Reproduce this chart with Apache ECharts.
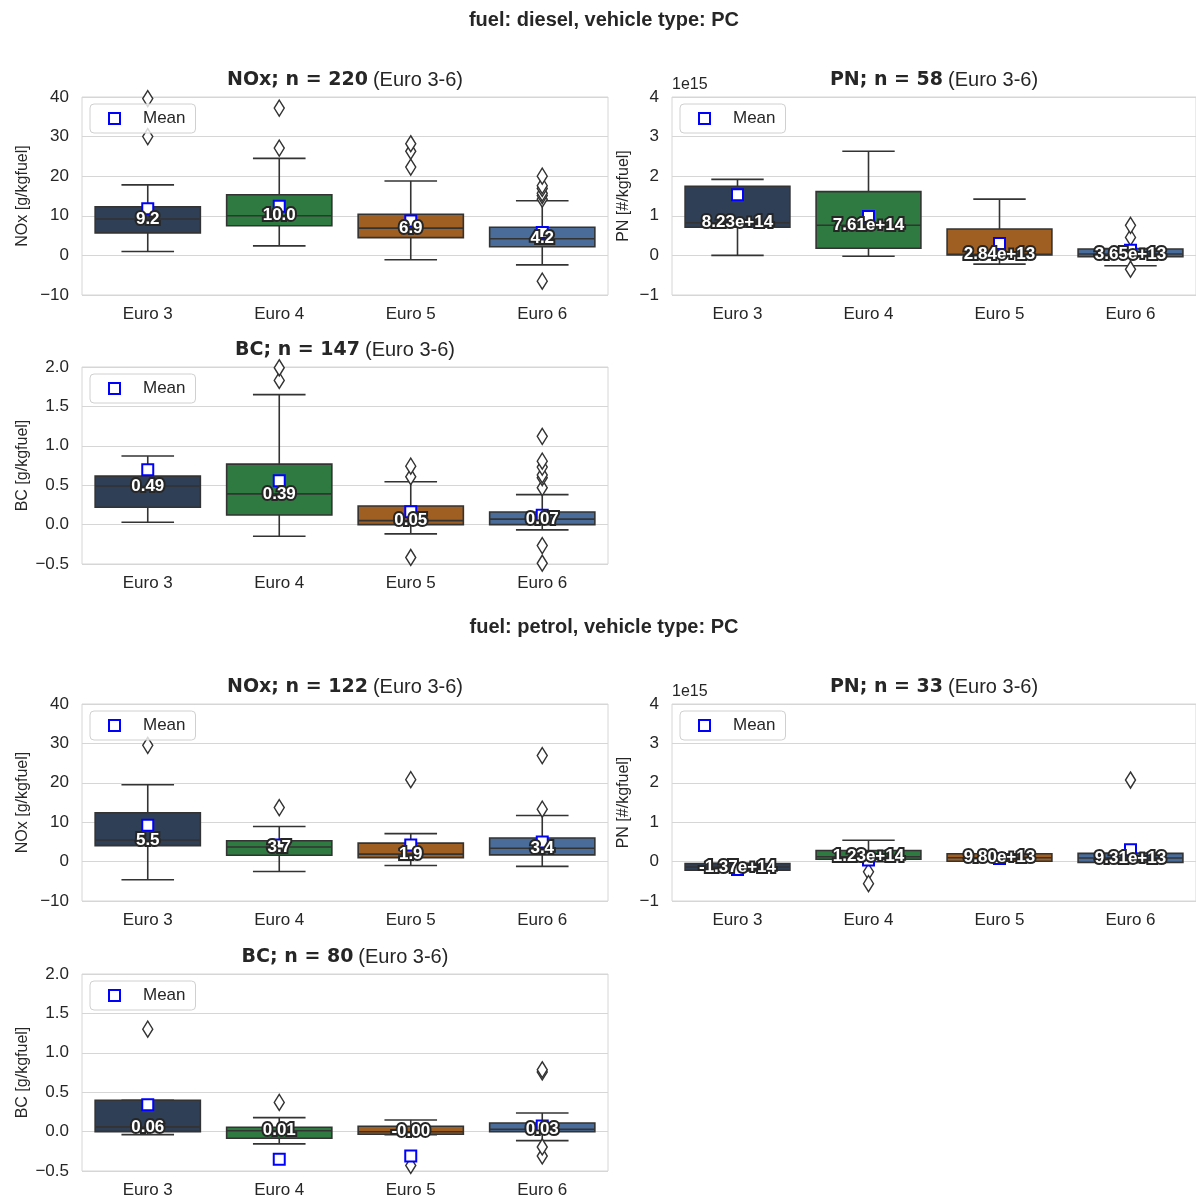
<!DOCTYPE html>
<html>
<head>
<meta charset="utf-8">
<script src="https://cdn.jsdelivr.net/npm/echarts@6/dist/echarts.min.js"></script>
<style>
  html, body { margin: 0; padding: 0; background: #fff; }
  #chart { width: 1196px; height: 1199px; }
</style>
</head>
<body>
<div id="chart"></div>
<script>
var categories = ['Euro 3', 'Euro 4', 'Euro 5', 'Euro 6'];
var boxColors = ['#2f3f55', '#2e7a40', '#a05f22', '#4a6c9a'];

// box stats per category: [low whisker, Q1, median, Q3, high whisker]
var dieselNOxBox = [[1.0, 5.7, 9.2, 12.3, 17.8], [2.4, 7.5, 10.0, 15.3, 24.5], [-1.1, 4.5, 6.9, 10.4, 18.8], [-2.4, 2.2, 4.2, 7.1, 13.8]];
var dieselNOxMean = [11.8, 12.4, 8.7, 5.8];
var dieselNOxOut = [[30.0, 39.6], [27.1, 37.2], [22.3, 26.3, 28.2], [-6.5, 14.2, 15.1, 15.7, 16.9, 17.6, 20.0]];

var dieselPNBox = [[0.0, 0.71e15, 8.23e14, 1.745e15, 1.92e15], [-0.02e15, 0.18e15, 7.61e14, 1.61e15, 2.63e15], [-0.22e15, 0.01e15, 2.84e13, 0.665e15, 1.42e15], [-0.26e15, -0.03e15, 3.65e13, 0.16e15, 0.17e15]];
var dieselPNMean = [1.53e15, 0.98e15, 0.3e15, 0.13e15];
var dieselPNOut = [[], [], [], [-0.35e15, 0.455e15, 0.76e15]];

var dieselBCBox = [[0.03, 0.22, 0.49, 0.615, 0.87], [-0.148, 0.122, 0.39, 0.767, 1.65], [-0.118, 0.0, 0.05, 0.236, 0.544], [-0.067, 0.0, 0.07, 0.16, 0.38]];
var dieselBCMean = [0.695, 0.556, 0.164, 0.12];
var dieselBCOut = [[], [1.83, 1.99], [-0.417, 0.607, 0.742], [-0.49, -0.266, 0.468, 0.595, 0.63, 0.73, 0.805, 1.12]];

var petrolNOxBox = [[-4.6, 4.05, 5.5, 12.4, 19.5], [-2.5, 1.6, 3.7, 5.3, 8.9], [-1.0, 1.0, 1.9, 4.7, 7.1], [-1.2, 1.7, 3.4, 6.0, 11.7]];
var petrolNOxMean = [9.2, 4.2, 4.2, 5.0];
var petrolNOxOut = [[29.5], [13.7], [20.8], [13.3, 26.9]];

var petrolPNBox = [[-0.24e15, -0.22e15, -1.37e14, -0.05e15, -0.04e15], [0.0, 0.06e15, 1.23e14, 0.28e15, 0.54e15], [0.01e15, 0.01e15, 9.80e13, 0.2e15, 0.2e15], [-0.02e15, -0.02e15, 9.31e13, 0.21e15, 0.21e15]];
var petrolPNMean = [-0.2e15, 0.04e15, 0.08e15, 0.3e15];
var petrolPNOut = [[], [-0.26e15, -0.56e15], [], [2.07e15]];

var petrolBCBox = [[-0.038, 0.0, 0.06, 0.397, 0.397], [-0.156, -0.084, 0.01, 0.055, 0.177], [-0.04, -0.034, -0.001, 0.068, 0.148], [-0.114, 0.0, 0.03, 0.11, 0.236]];
var petrolBCMean = [0.342, -0.35, -0.31, 0.07];
var petrolBCOut = [[1.30], [0.37], [-0.43], [-0.31, -0.195, 0.756, 0.785]];

var myChart = echarts.init(document.getElementById('chart'));

var FONT = '"Liberation Sans", Arial, sans-serif';
var TXT = '#262626';

function minus(s) { return String(s).replace('-', '\u2212'); }

var fmtNOx = function (v) { return v.toFixed(1); };
var fmtBC = function (v) { return v.toFixed(2); };
var fmtPN = function (v) { return v.toExponential(2); };

var panels = [
  { left: 82, top: 97, width: 526, height: 198, box: dieselNOxBox, mean: dieselNOxMean, out: dieselNOxOut, min: -10, max: 40, step: 10, fmt: fmtNOx, tick: function (v) { return minus(v); }, yname: 'NOx [g/kgfuel]', bold: 'NOx; n = 220' },
  { left: 672, top: 97, width: 524, height: 198, box: dieselPNBox, mean: dieselPNMean, out: dieselPNOut, min: -1e15, max: 4e15, step: 1e15, fmt: fmtPN, tick: function (v) { return minus(Math.round(v / 1e15)); }, yname: 'PN [#/kgfuel]', bold: 'PN; n = 58', pn: true },
  { left: 82, top: 367, width: 526, height: 197, box: dieselBCBox, mean: dieselBCMean, out: dieselBCOut, min: -0.5, max: 2, step: 0.5, fmt: fmtBC, tick: function (v) { return minus(v.toFixed(1)); }, yname: 'BC [g/kgfuel]', bold: 'BC; n = 147' },
  { left: 82, top: 704, width: 526, height: 197, box: petrolNOxBox, mean: petrolNOxMean, out: petrolNOxOut, min: -10, max: 40, step: 10, fmt: fmtNOx, tick: function (v) { return minus(v); }, yname: 'NOx [g/kgfuel]', bold: 'NOx; n = 122' },
  { left: 672, top: 704, width: 524, height: 197, box: petrolPNBox, mean: petrolPNMean, out: petrolPNOut, min: -1e15, max: 4e15, step: 1e15, fmt: fmtPN, tick: function (v) { return minus(Math.round(v / 1e15)); }, yname: 'PN [#/kgfuel]', bold: 'PN; n = 33', pn: true },
  { left: 82, top: 974, width: 526, height: 197, box: petrolBCBox, mean: petrolBCMean, out: petrolBCOut, min: -0.5, max: 2, step: 0.5, fmt: fmtBC, tick: function (v) { return minus(v.toFixed(1)); }, yname: 'BC [g/kgfuel]', bold: 'BC; n = 80' }
];

function renderBox(params, api) {
  var i = api.value(0);
  var band = api.size([1, 0])[0];
  var xc = api.coord([i, 0])[0];
  var yLow = api.coord([i, api.value(1)])[1];
  var yQ1 = api.coord([i, api.value(2)])[1];
  var yMed = api.coord([i, api.value(3)])[1];
  var yQ3 = api.coord([i, api.value(4)])[1];
  var yHigh = api.coord([i, api.value(5)])[1];
  var bw = band * 0.8, cw = band * 0.4;
  var edge = { stroke: '#333', lineWidth: 1.6 };
  return {
    type: 'group',
    children: [
      { type: 'line', shape: { x1: xc, y1: yLow, x2: xc, y2: yQ1 }, style: edge },
      { type: 'line', shape: { x1: xc, y1: yQ3, x2: xc, y2: yHigh }, style: edge },
      { type: 'line', shape: { x1: xc - cw / 2, y1: yLow, x2: xc + cw / 2, y2: yLow }, style: edge },
      { type: 'line', shape: { x1: xc - cw / 2, y1: yHigh, x2: xc + cw / 2, y2: yHigh }, style: edge },
      { type: 'rect', shape: { x: xc - bw / 2, y: yQ3, width: bw, height: Math.max(yQ1 - yQ3, 1) }, style: { fill: boxColors[i], stroke: '#333', lineWidth: 1.6 } },
      { type: 'line', shape: { x1: xc - bw / 2, y1: yMed, x2: xc + bw / 2, y2: yMed }, style: edge }
    ]
  };
}

var grids = [], xAxes = [], yAxes = [], series = [], legends = [];
var titles = [
  { text: 'fuel: diesel, vehicle type: PC', left: 604, top: 10, textAlign: 'center', padding: 0, textStyle: { fontFamily: FONT, fontWeight: 'bold', fontSize: 20, color: TXT } },
  { text: 'fuel: petrol, vehicle type: PC', left: 604, top: 617, textAlign: 'center', padding: 0, textStyle: { fontFamily: FONT, fontWeight: 'bold', fontSize: 20, color: TXT } }
];

panels.forEach(function (p, k) {
  grids.push({ left: p.left, top: p.top, width: p.width, height: p.height, show: true, borderColor: '#d6d6d6', borderWidth: 1, backgroundColor: '#fff' });
  xAxes.push({
    type: 'category', gridIndex: k, data: categories,
    axisLine: { show: false }, axisTick: { show: false }, splitLine: { show: false },
    axisLabel: { fontFamily: FONT, fontSize: 17, color: TXT, margin: 11 }
  });
  yAxes.push({
    type: 'value', gridIndex: k, min: p.min, max: p.max, interval: p.step,
    name: p.yname, nameLocation: 'middle', nameRotate: 90, nameGap: p.pn ? 40 : 51,
    nameTextStyle: { fontFamily: FONT, fontSize: 16, color: TXT },
    axisLine: { show: false }, axisTick: { show: false },
    splitLine: { show: true, lineStyle: { color: '#d6d6d6', width: 1 } },
    axisLabel: { fontFamily: FONT, fontSize: 17, color: TXT, margin: 13, formatter: p.tick }
  });

  titles.push({
    text: '{b|' + p.bold + '} {r|(Euro 3-6)}',
    left: p.left + p.width / 2, top: p.top - 27, textAlign: 'center', padding: 0,
    textStyle: {
      fontWeight: 'normal',
      rich: {
        b: { fontFamily: '"DejaVu Sans"', fontWeight: 'bold', fontSize: 19, color: TXT },
        r: { fontFamily: FONT, fontWeight: 'normal', fontSize: 20, color: TXT }
      }
    }
  });
  if (p.pn) {
    titles.push({ text: '1e15', left: p.left, top: p.top - 20, padding: 0, textStyle: { fontFamily: FONT, fontWeight: 'normal', fontSize: 16, color: TXT } });
  }

  series.push({
    type: 'custom', xAxisIndex: k, yAxisIndex: k, z: 2,
    renderItem: renderBox,
    encode: { x: 0, y: [1, 2, 3, 4, 5] },
    data: p.box.map(function (b, i) { return [i, b[0], b[1], b[2], b[3], b[4]]; })
  });

  var outPts = [];
  p.out.forEach(function (list, i) { list.forEach(function (v) { outPts.push([i, v]); }); });
  series.push({
    type: 'scatter', xAxisIndex: k, yAxisIndex: k, z: 3, silent: true,
    symbol: 'diamond', symbolSize: [10, 16],
    itemStyle: { color: '#fff', borderColor: '#333', borderWidth: 1.5, opacity: 1 },
    data: outPts
  });

  series.push({
    name: 'Mean', type: 'scatter', xAxisIndex: k, yAxisIndex: k, z: 4, silent: true,
    symbol: 'rect', symbolSize: 11,
    itemStyle: { color: '#fff', borderColor: '#0000ff', borderWidth: 2, opacity: 1 },
    data: p.mean.map(function (m, i) { return [i, m]; })
  });

  series.push({
    type: 'scatter', xAxisIndex: k, yAxisIndex: k, z: 5, silent: true,
    symbolSize: 1, itemStyle: { color: 'rgba(0,0,0,0)', opacity: 1 },
    label: {
      show: true, position: 'inside', fontFamily: FONT, fontWeight: 'bold', fontSize: 17,
      color: '#ffffff', opacity: 1, textBorderColor: '#262626', textBorderWidth: 4,
      formatter: function (d) { return p.fmt(d.value[1]); }
    },
    data: p.box.map(function (b, i) { return [i, b[2]]; })
  });

  legends.push({
    data: ['Mean'], left: p.left + 8, top: p.top + 7, selectedMode: false,
    backgroundColor: 'rgba(255,255,255,0.8)', borderColor: '#d0d0d0', borderWidth: 1, borderRadius: 4,
    padding: [6, 10, 6, 18], icon: 'rect', itemWidth: 11, itemHeight: 11,
    itemStyle: { color: '#fff', borderColor: '#0000ff', borderWidth: 2 },
    textStyle: { fontFamily: FONT, fontSize: 17, color: TXT, padding: [0, 0, 0, 18] }
  });
});

var option = {
  backgroundColor: '#fff',
  animation: false,
  title: titles,
  legend: legends,
  grid: grids,
  xAxis: xAxes,
  yAxis: yAxes,
  series: series
};

myChart.setOption(option);
</script>
</body>
</html>
